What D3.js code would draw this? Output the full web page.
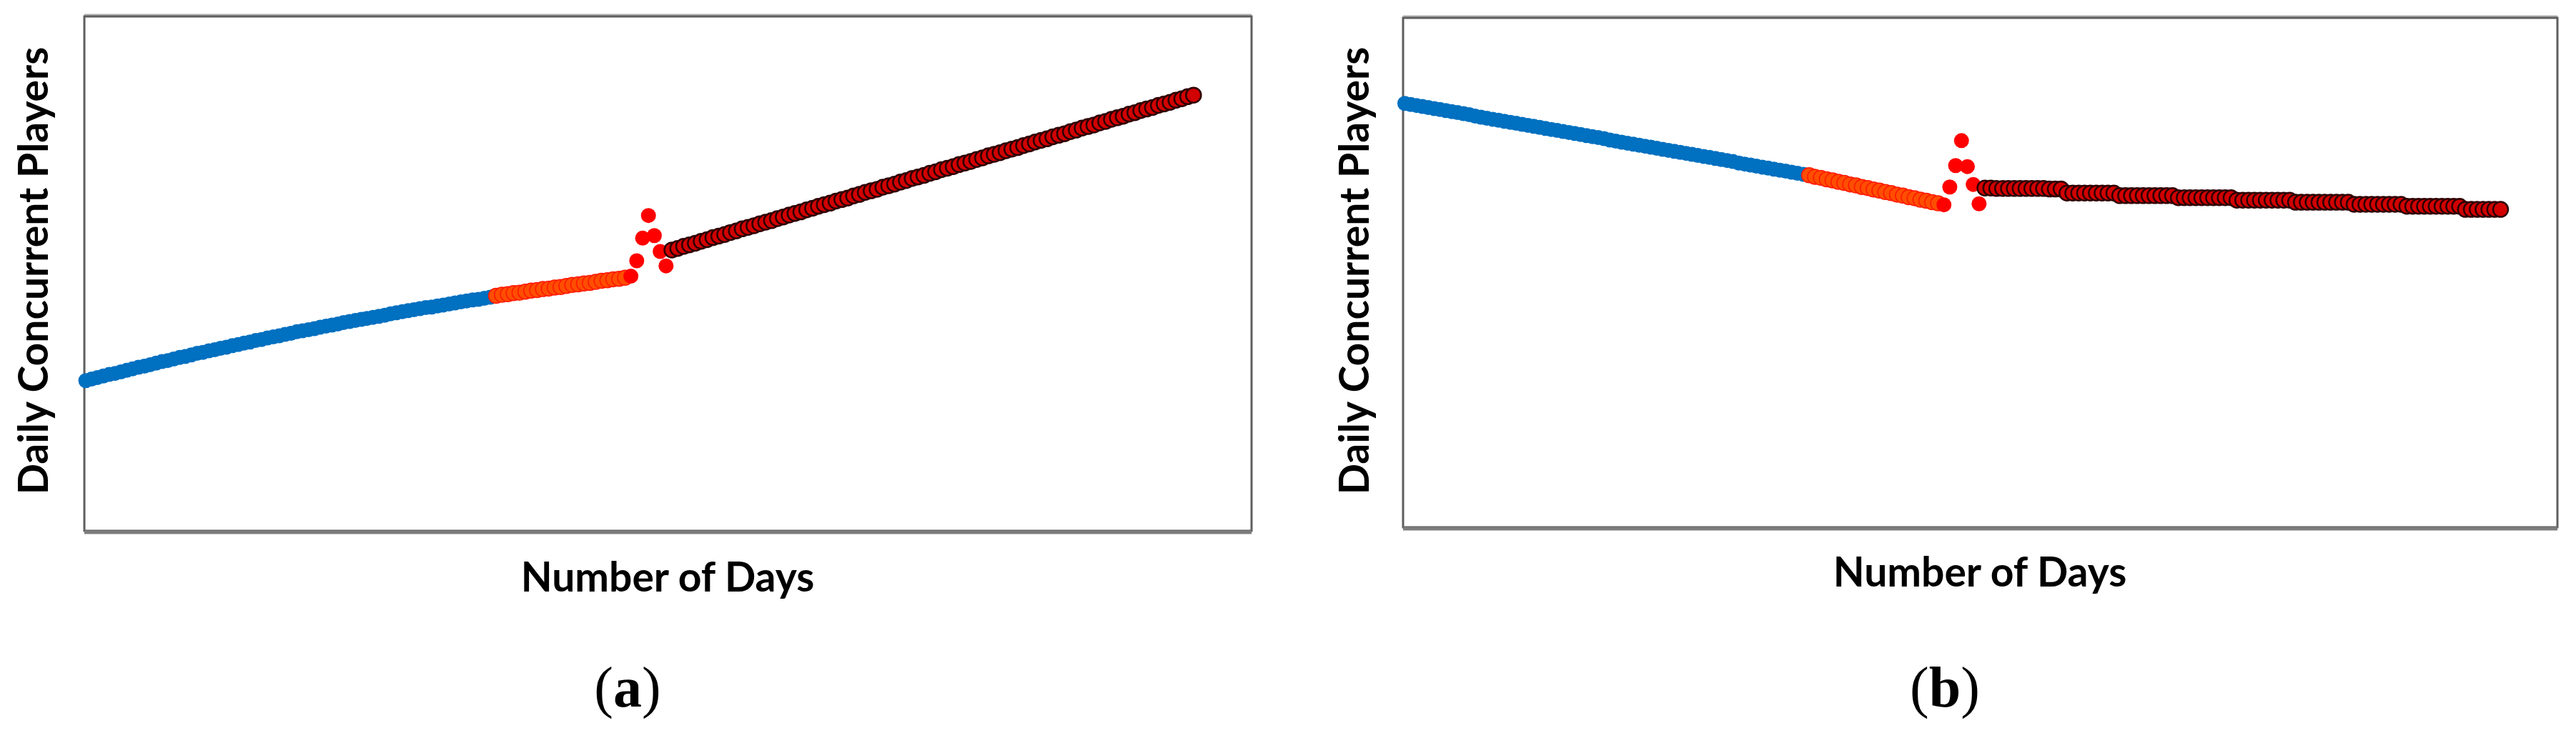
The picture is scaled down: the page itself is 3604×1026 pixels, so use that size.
<!DOCTYPE html>
<html>
<head>
<meta charset="utf-8">
<script src="https://cdn.jsdelivr.net/npm/d3@7"></script>
<style>
    body { margin: 0; background: #fff; }
    svg { display: block; }
    .axis-label { font-family: Lato, "Open Sans", sans-serif; font-weight: 700; font-size: 57px; fill: #000; }
    .panel-tag { font-family: "Liberation Serif", "DejaVu Serif", serif; font-size: 80px; fill: #000; }
</style>
</head>
<body>
<script>
// Initialize constants
const width = 3604;
const height = 1026;
const radius = 10.5;

// text
const xLabel = "Number of Days";
const yLabel = "Daily Concurrent Players";
const panelTags = ["a", "b"];

// panel (a): values, in % of the plot height, one per day
const blueStartA = 0;
const blueA = [29.2, 29.5, 29.8, 30.1, 30.4, 30.6, 30.9, 31.2, 31.5, 31.8,
    32.0, 32.3, 32.6, 32.9, 33.1, 33.4, 33.7, 33.9, 34.2, 34.5,
    34.7, 35.0, 35.2, 35.5, 35.7, 36.0, 36.2, 36.5, 36.7, 37.0,
    37.2, 37.5, 37.7, 37.9, 38.2, 38.4, 38.7, 38.9, 39.1, 39.3,
    39.6, 39.8, 40.0, 40.2, 40.5, 40.7, 40.9, 41.1, 41.3, 41.5,
    41.7, 41.9, 42.2, 42.4, 42.6, 42.8, 43.0, 43.2, 43.4, 43.5,
    43.7, 43.9, 44.1, 44.3, 44.5, 44.7, 44.9, 45.0, 45.2, 45.4];
const orangeStartA = 70;
const orangeA = [45.7, 45.9, 46.0, 46.2, 46.3, 46.5, 46.7, 46.8, 47.0, 47.1,
    47.3, 47.4, 47.6, 47.8, 47.9, 48.1, 48.2, 48.4, 48.6, 48.7,
    48.9, 49.0, 49.2];
const spikeStartA = 93;
const spikeA = [49.5, 52.5, 56.9, 61.3, 57.4, 54.3, 51.5];
const trendStartA = 100;
const trendA = [54.6, 54.9, 55.3, 55.6, 55.9, 56.3, 56.6, 57.0, 57.3, 57.6,
    58.0, 58.3, 58.7, 59.0, 59.3, 59.7, 60.0, 60.3, 60.7, 61.0,
    61.4, 61.7, 62.0, 62.4, 62.7, 63.1, 63.4, 63.7, 64.1, 64.4,
    64.7, 65.1, 65.4, 65.8, 66.1, 66.4, 66.8, 67.1, 67.4, 67.8,
    68.1, 68.5, 68.8, 69.1, 69.5, 69.8, 70.2, 70.5, 70.8, 71.2,
    71.5, 71.8, 72.2, 72.5, 72.9, 73.2, 73.5, 73.9, 74.2, 74.5,
    74.9, 75.2, 75.6, 75.9, 76.2, 76.6, 76.9, 77.2, 77.6, 77.9,
    78.3, 78.6, 78.9, 79.3, 79.6, 80.0, 80.3, 80.6, 81.0, 81.3,
    81.7, 82.0, 82.3, 82.7, 83.0, 83.3, 83.7, 84.0, 84.4, 84.7];

// panel (b)
const blueStartB = 0;
const blueB = [83.2, 83.0, 82.8, 82.6, 82.4, 82.2, 82.0, 81.8, 81.6, 81.4,
    81.2, 81.0, 80.7, 80.5, 80.3, 80.1, 79.9, 79.7, 79.5, 79.3,
    79.1, 78.9, 78.7, 78.5, 78.3, 78.1, 77.9, 77.7, 77.5, 77.3,
    77.1, 76.9, 76.7, 76.5, 76.3, 76.0, 75.8, 75.6, 75.4, 75.2,
    75.0, 74.8, 74.6, 74.4, 74.2, 74.0, 73.8, 73.6, 73.4, 73.2,
    73.0, 72.8, 72.6, 72.4, 72.2, 72.0, 71.8, 71.5, 71.3, 71.1,
    70.9, 70.7, 70.5, 70.3, 70.1, 69.9, 69.7, 69.5, 69.3];
const orangeStartB = 69;
const orangeB = [69.1, 68.8, 68.6, 68.3, 68.1, 67.8, 67.6, 67.3, 67.1, 66.8,
    66.6, 66.3, 66.1, 65.8, 65.6, 65.3, 65.1, 64.8, 64.6, 64.3,
    64.1, 63.8, 63.6];
const spikeStartB = 92;
const spikeB = [63.3, 66.8, 71.0, 75.9, 70.8, 67.3, 63.5];
const trendStartB = 99;
const trendB = [66.6, 66.6, 66.5, 66.5, 66.5, 66.5, 66.5, 66.5, 66.5, 66.5,
    66.5, 66.4, 66.4, 66.4, 65.6, 65.6, 65.6, 65.6, 65.6, 65.6,
    65.6, 65.6, 65.6, 65.1, 65.1, 65.1, 65.1, 65.1, 65.1, 65.1,
    65.1, 65.1, 65.1, 64.7, 64.7, 64.7, 64.7, 64.7, 64.7, 64.7,
    64.7, 64.7, 64.7, 64.2, 64.2, 64.2, 64.2, 64.2, 64.2, 64.2,
    64.2, 64.2, 64.2, 63.8, 63.8, 63.8, 63.8, 63.8, 63.8, 63.8,
    63.8, 63.8, 63.8, 63.4, 63.4, 63.4, 63.4, 63.4, 63.4, 63.4,
    63.4, 63.4, 63.0, 63.0, 63.0, 63.0, 63.0, 63.0, 63.0, 63.0,
    63.0, 63.0, 62.4, 62.4, 62.4, 62.4, 62.4, 62.4, 62.4];

var svg;

// marker looks for the four phases
const styles = {
    blue: { fill: "#0070c0", stroke: "#0070c0", sw: 0 },
    orange: { fill: "#ff4e00", stroke: "#ff1800", sw: 1.5 },
    spike: { fill: "#ff0000", stroke: "#ff0000", sw: 0 },
    trend: { fill: "#d20000", stroke: "#2e0000", sw: 2.5 }
};

function toPoints(start, values, kind) {
    return values.map((v, i) => ({ day: start + i, value: v, kind: kind }));
}

function drawPanel(p) {
    const x_scale = d3.scaleLinear().domain(p.xDomain).range([p.left, p.right]);
    const y_scale = d3.scaleLinear().domain([0, 100]).range([p.bottom, p.top]);

    const g = svg.append("g");

    // frame of the plot, a bit heavier at the bottom like the scan
    g.append("line")
        .attr("x1", p.left).attr("x2", p.right)
        .attr("y1", p.top - 2).attr("y2", p.top - 2)
        .attr("stroke", "#b0b0b0").attr("stroke-width", 3);
    g.append("rect")
        .attr("x", p.left).attr("y", p.top)
        .attr("width", p.right - p.left).attr("height", p.bottom - p.top)
        .attr("fill", "none").attr("stroke", "#5e5e5e").attr("stroke-width", 3);
    g.append("line")
        .attr("x1", p.left).attr("x2", p.right)
        .attr("y1", p.bottom + 2).attr("y2", p.bottom + 2)
        .attr("stroke", "#7c7c7c").attr("stroke-width", 5);

    g.selectAll("circle")
        .data(p.points)
        .enter()
        .append("circle")
        .attr("cx", d => x_scale(d.day))
        .attr("cy", d => y_scale(d.value))
        .attr("r", radius)
        .attr("fill", d => styles[d.kind].fill)
        .attr("stroke", d => styles[d.kind].stroke)
        .attr("stroke-width", d => styles[d.kind].sw);

    // axis titles
    g.append("text")
        .attr("class", "axis-label")
        .attr("transform", "translate(" + p.yLabelX + "," + p.yLabelY + ") rotate(-90)")
        .attr("text-anchor", "middle")
        .text(yLabel);
    g.append("text")
        .attr("class", "axis-label")
        .attr("x", p.xLabelX)
        .attr("y", p.xLabelY)
        .attr("text-anchor", "middle")
        .text(xLabel);

    // (a) / (b)
    const tag = g.append("text")
        .attr("class", "panel-tag")
        .attr("x", p.tagX)
        .attr("y", p.tagY)
        .attr("text-anchor", "middle");
    tag.append("tspan").text("(");
    tag.append("tspan").attr("font-weight", 700).text(p.tag);
    tag.append("tspan").text(")");
}

document.addEventListener('DOMContentLoaded', function () {
    svg = d3.select("body")
        .append("svg")
        .attr("width", width)
        .attr("height", height);
    svg.append("rect").attr("width", width).attr("height", height).attr("fill", "#fff");

    drawPanel({
        left: 118, right: 1751, top: 23, bottom: 743,
        xDomain: [-0.25, 198.9],
        points: [].concat(
            toPoints(blueStartA, blueA, "blue"),
            toPoints(orangeStartA, orangeA, "orange"),
            toPoints(spikeStartA, spikeA, "spike"),
            toPoints(trendStartA, trendA, "trend")),
        yLabelX: 67, yLabelY: 379,
        xLabelX: 934, xLabelY: 828,
        tagX: 878, tagY: 989, tag: panelTags[0]
    });

    drawPanel({
        left: 1963, right: 3578, top: 25, bottom: 738,
        xDomain: [-0.3, 196.7],
        points: [].concat(
            toPoints(blueStartB, blueB, "blue"),
            toPoints(orangeStartB, orangeB, "orange"),
            toPoints(spikeStartB, spikeB, "spike"),
            toPoints(trendStartB, trendB, "trend")),
        yLabelX: 1915, yLabelY: 379,
        xLabelX: 2770, xLabelY: 821,
        tagX: 2721, tagY: 989, tag: panelTags[1]
    });
});
</script>
</body>
</html>
